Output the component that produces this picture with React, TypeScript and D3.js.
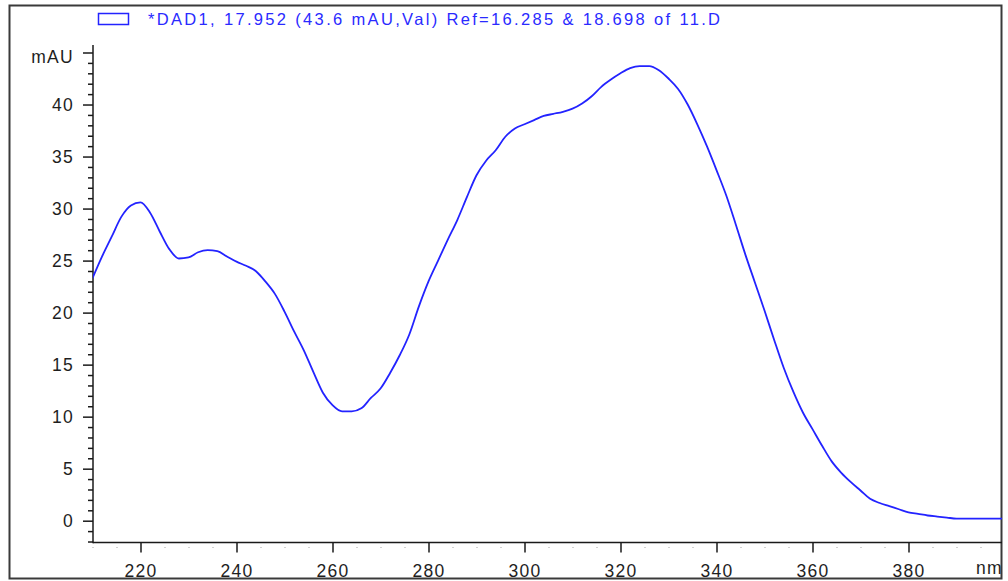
import React, { useRef, useEffect } from "react";
import * as d3 from "d3";

// spectrum (nm, mAU)
const wavelengths = [
  210, 212, 214, 216, 218, 220, 222, 224, 226, 228, 230, 232, 234, 236, 238, 240,
  242, 244, 246, 248, 250, 252, 254, 256, 258, 260, 262, 264, 266, 268, 270, 272,
  274, 276, 278, 280, 282, 284, 286, 288, 290, 292, 294, 296, 298, 300, 302, 304,
  306, 308, 310, 312, 314, 316, 318, 320, 322, 324, 326, 328, 330, 332, 334, 336,
  338, 340, 342, 344, 346, 348, 350, 352, 354, 356, 358, 360, 362, 364, 366, 368,
  370, 372, 374, 376, 378, 380, 382, 384, 386, 388, 390, 395, 400,
];
const absorbance = [
  23.3, 25.4, 27.3, 29.2, 30.3, 30.6, 29.6, 27.8, 26.1, 25.2, 25.3, 25.8, 26.0, 25.9, 25.4, 24.9,
  24.5, 24.0, 23.0, 21.8, 20.1, 18.2, 16.4, 14.3, 12.3, 11.1, 10.5, 10.5, 10.8, 11.8, 12.7, 14.2,
  15.9, 17.9, 20.6, 23.0, 25.0, 27.0, 28.9, 31.1, 33.2, 34.6, 35.6, 36.9, 37.7, 38.1, 38.5, 38.9,
  39.1, 39.3, 39.6, 40.1, 40.8, 41.7, 42.4, 43.0, 43.5, 43.7, 43.7, 43.3, 42.5, 41.5, 40.0, 38.1,
  36.0, 33.7, 31.3, 28.5, 25.6, 22.9, 20.2, 17.4, 14.7, 12.4, 10.4, 8.8, 7.2, 5.7, 4.6, 3.7,
  2.9, 2.1, 1.7, 1.4, 1.1, 0.8, 0.65, 0.5, 0.4, 0.3, 0.2, 0.2, 0.2,
];

const xMajorTicks = [220, 240, 260, 280, 300, 320, 340, 360, 380];
const yMajorTicks = [0, 5, 10, 15, 20, 25, 30, 35, 40, 45];
const yTopLabel = "mAU";
const xUnitLabel = "nm";
const legendText = "*DAD1, 17.952 (43.6 mAU,Val) Ref=16.285 & 18.698 of 11.D";

const Spectrum = () => {
  const ref = useRef<SVGSVGElement>(null);

  useEffect(() => {
    const svg = d3.select(ref.current);
    svg.selectAll("*").remove();

    const width = 1008;
    const height = 581;
    const plot = { left: 93, right: 1002, top: 45, bottom: 542.5 };

    svg.attr("width", width).attr("height", height).style("background", "#fff");

    const x = d3.scaleLinear().domain([210, 400]).range([92.5, 1004.5]);
    const y = d3.scaleLinear().domain([0, 45]).range([520.7, 52.5]);

    const axisColor = "#1a1a1a";
    const font = "'Liberation Sans', Arial, sans-serif";

    const defs = svg.append("defs");
    defs.append("clipPath")
      .attr("id", "plot-clip")
      .append("rect")
      .attr("x", plot.left)
      .attr("y", plot.top - 20)
      .attr("width", plot.right - plot.left)
      .attr("height", plot.bottom - plot.top + 20);
    defs.append("clipPath")
      .attr("id", "frame-clip")
      .append("rect")
      .attr("x", 9)
      .attr("y", 5)
      .attr("width", 993)
      .attr("height", 574);

    // outer frame
    svg.append("rect")
      .attr("x", 9.5)
      .attr("y", 5.5)
      .attr("width", 992)
      .attr("height", 573)
      .attr("fill", "none")
      .attr("stroke", "#3a3a3a")
      .attr("stroke-width", 2);

    // y axis: major + minor ticks
    const yMinor = d3.range(-2, 46).filter(v => v % 5 !== 0);
    const yAxisMinor = d3.axisLeft(y).tickValues(yMinor).tickSize(5).tickFormat(() => "");
    const yAxisMajor = d3.axisLeft(y)
      .tickValues(yMajorTicks)
      .tickSize(10)
      .tickPadding(9)
      .tickFormat(d => (d === 45 ? yTopLabel : String(d)));

    const gyMinor = svg.append("g").attr("transform", `translate(${plot.left},0)`).call(yAxisMinor);
    const gy = svg.append("g").attr("transform", `translate(${plot.left},0)`).call(yAxisMajor);
    [gyMinor, gy].forEach(g => {
      g.select(".domain").remove();
      g.selectAll("line").attr("stroke", axisColor).attr("stroke-width", 1.5);
    });
    gy.selectAll("text")
      .attr("fill", "#1e1e1e")
      .style("font-family", font)
      .style("font-size", "17.5px")
      .style("letter-spacing", "1.3px")
      .attr("dy", d => (d === 45 ? "0.55em" : "0.34em"));

    // x axis: major + minor ticks
    const xMinor = d3.range(210, 401, 5).filter(v => v % 20 !== 0);
    const xAxisMinor = d3.axisBottom(x).tickValues(xMinor).tickSize(5).tickFormat(() => "");
    const xAxisMajor = d3.axisBottom(x)
      .tickValues(xMajorTicks)
      .tickSize(10)
      .tickPadding(6)
      .tickFormat(d => String(d));

    const gxMinor = svg.append("g")
      .attr("transform", `translate(0,${plot.bottom})`)
      .attr("clip-path", "url(#frame-clip)")
      .call(xAxisMinor);
    const gx = svg.append("g").attr("transform", `translate(0,${plot.bottom})`).call(xAxisMajor);
    [gxMinor, gx].forEach(g => {
      g.select(".domain").remove();
      g.selectAll("line").attr("stroke", axisColor).attr("stroke-width", 1.5);
    });
    gx.selectAll("text")
      .attr("fill", "#1e1e1e")
      .style("font-family", font)
      .style("font-size", "17.5px")
      .style("letter-spacing", "1.3px")
      .attr("dy", "1.05em");

    svg.append("text")
      .attr("x", 976)
      .attr("y", 574)
      .attr("clip-path", "url(#frame-clip)")
      .attr("fill", "#1e1e1e")
      .style("font-family", font)
      .style("font-size", "17.5px")
      .style("letter-spacing", "1.3px")
      .text(xUnitLabel);

    // axis lines
    svg.append("line")
      .attr("x1", plot.left).attr("x2", plot.left)
      .attr("y1", plot.top).attr("y2", plot.bottom + 0.75)
      .attr("stroke", axisColor).attr("stroke-width", 1.5);
    svg.append("line")
      .attr("x1", plot.left).attr("x2", plot.right)
      .attr("y1", plot.bottom).attr("y2", plot.bottom)
      .attr("stroke", axisColor).attr("stroke-width", 1.5);

    // spectrum trace
    const points = wavelengths.map((w, i) => ({ x: w, y: absorbance[i] }));
    const line = d3.line<{ x: number; y: number }>()
      .x(d => x(d.x))
      .y(d => y(d.y))
      .curve(d3.curveMonotoneX);

    svg.append("path")
      .datum(points)
      .attr("clip-path", "url(#plot-clip)")
      .attr("fill", "none")
      .attr("stroke", "#2323ff")
      .attr("stroke-width", 1.8)
      .attr("d", line);

    // legend
    svg.append("rect")
      .attr("x", 98.5)
      .attr("y", 13.5)
      .attr("width", 30)
      .attr("height", 11)
      .attr("fill", "none")
      .attr("stroke", "#2323ff")
      .attr("stroke-width", 1.5);

    svg.append("text")
      .attr("x", 148)
      .attr("y", 25)
      .attr("textLength", 572)
      .attr("lengthAdjust", "spacing")
      .attr("fill", "#2a2aff")
      .style("font-family", font)
      .style("font-size", "16.5px")
      .text(legendText);
  }, []);

  return <svg ref={ref} style={{ position: "absolute", left: 0, top: 0 }}></svg>;
};

export default function App() {
  return <Spectrum />;
}
